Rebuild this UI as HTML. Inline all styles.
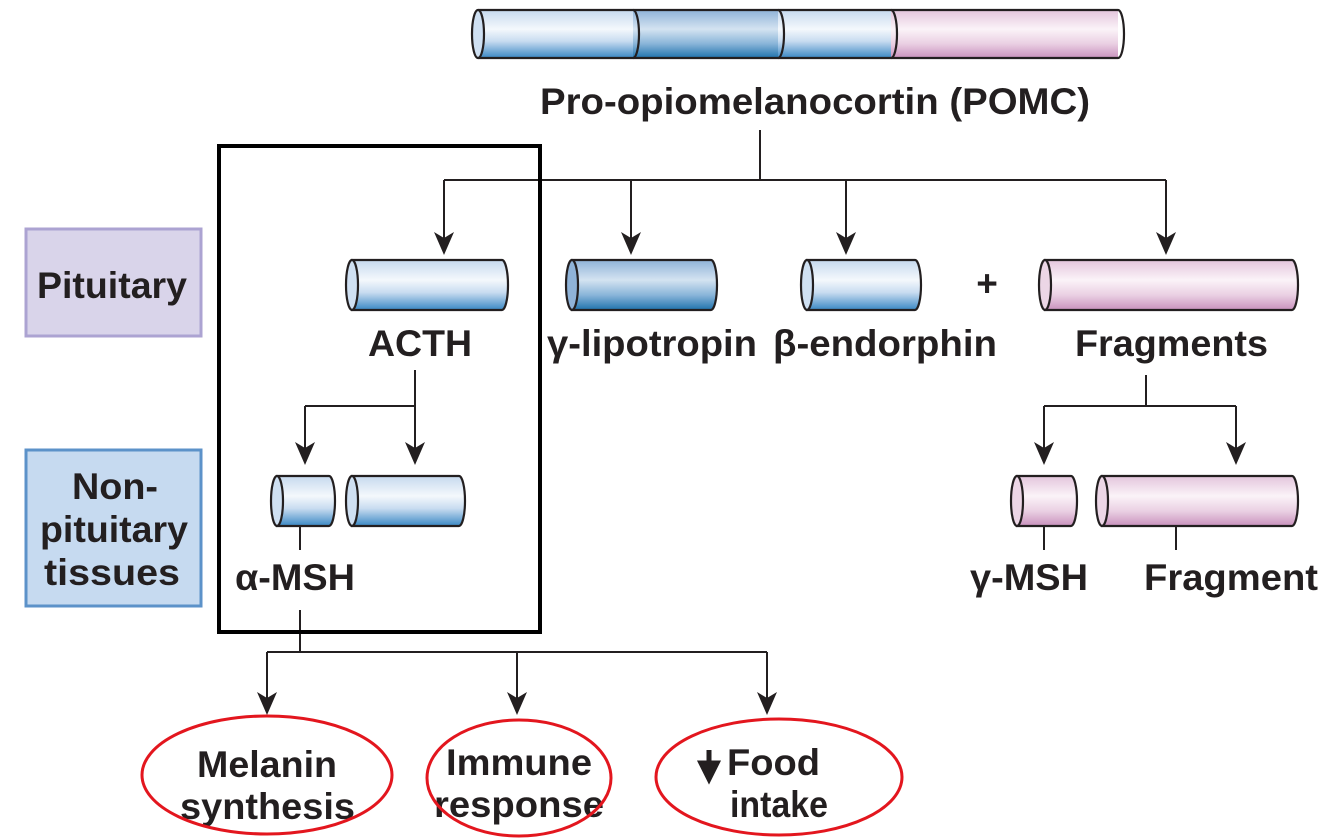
<!DOCTYPE html>
<html><head><meta charset="utf-8"><style>
html,body{margin:0;padding:0;background:#fff}
svg{display:block}
text{font-family:"Liberation Sans",sans-serif;font-weight:bold;fill:#231f20}
</style></head><body>
<svg width="1343" height="840" viewBox="0 0 1343 840" xmlns="http://www.w3.org/2000/svg">
<defs>
<linearGradient id="b" x1="0" y1="0" x2="0" y2="1">
<stop offset="0" stop-color="#c6d9ee"/><stop offset="0.4" stop-color="#f4f8fc"/><stop offset="0.65" stop-color="#c8dcf0"/><stop offset="1" stop-color="#3a88c4"/></linearGradient>
<linearGradient id="d" x1="0" y1="0" x2="0" y2="1">
<stop offset="0" stop-color="#8fb3d8"/><stop offset="0.4" stop-color="#d4e3f1"/><stop offset="0.7" stop-color="#8ab5d9"/><stop offset="1" stop-color="#1f73ad"/></linearGradient>
<linearGradient id="p" x1="0" y1="0" x2="0" y2="1">
<stop offset="0" stop-color="#e3c5dc"/><stop offset="0.4" stop-color="#fbf3f8"/><stop offset="0.7" stop-color="#ead0e3"/><stop offset="1" stop-color="#c992bd"/></linearGradient>
</defs>
<g stroke="#231f20" stroke-width="2.2" fill="none">
<rect x="478" y="10" width="155" height="48" fill="url(#b)" stroke="none"/>
<rect x="633" y="10" width="145" height="48" fill="url(#d)" stroke="none"/>
<rect x="778" y="10" width="113" height="48" fill="url(#b)" stroke="none"/>
<rect x="891" y="10" width="227" height="48" fill="url(#p)" stroke="none"/>
<path d="M478,10 H1118 A6,24 0 0 1 1118,58 H478" />
<path d="M633,10 A6,24 0 0 1 633,58 M778,10 A6,24 0 0 1 778,58 M891,10 A6,24 0 0 1 891,58"/>
<ellipse cx="478" cy="34" rx="6" ry="24" fill="#cfe0f2"/>
</g>
<g stroke="#231f20" stroke-width="2.2">
<path d="M352,260 H502 A6,25 0 0 1 502,310 H352 Z" fill="url(#b)"/><ellipse cx="352" cy="285" rx="6" ry="25" fill="#cfe0f2"/>
<path d="M572,260 H711 A6,25 0 0 1 711,310 H572 Z" fill="url(#d)"/><ellipse cx="572" cy="285" rx="6" ry="25" fill="#8fb3d8"/>
<path d="M807,260 H915 A6,25 0 0 1 915,310 H807 Z" fill="url(#b)"/><ellipse cx="807" cy="285" rx="6" ry="25" fill="#cfe0f2"/>
<path d="M1045,260 H1292 A6,25 0 0 1 1292,310 H1045 Z" fill="url(#p)"/><ellipse cx="1045" cy="285" rx="6" ry="25" fill="#ecd6e6"/>
<path d="M277,476 H329 A6,25 0 0 1 329,526 H277 Z" fill="url(#b)"/><ellipse cx="277" cy="501" rx="6" ry="25" fill="#cfe0f2"/>
<path d="M352,476 H459 A6,25 0 0 1 459,526 H352 Z" fill="url(#b)"/><ellipse cx="352" cy="501" rx="6" ry="25" fill="#cfe0f2"/>
<path d="M1017,476 H1071 A6,25 0 0 1 1071,526 H1017 Z" fill="url(#p)"/><ellipse cx="1017" cy="501" rx="6" ry="25" fill="#ecd6e6"/>
<path d="M1102,476 H1292 A6,25 0 0 1 1292,526 H1102 Z" fill="url(#p)"/><ellipse cx="1102" cy="501" rx="6" ry="25" fill="#ecd6e6"/>
</g>
<g stroke="#231f20" stroke-width="2" fill="none">
<path d="M760,130 V180 M444,180 H1166"/>
<path d="M444,180 V238 M631,180 V238 M846,180 V238 M1166,180 V238"/>
<path d="M415,370 V406 M305,406 H415 M305,406 V448 M415,406 V448"/>
<path d="M1146,375 V406 M1044,406 H1236 M1044,406 V448 M1236,406 V448"/>
<path d="M1044,526 V550 M1176,526 V550 M300,526 V550"/>
<path d="M300,610 V652 M267,652 H767 M267,652 V698 M517,652 V698 M767,652 V698"/>
</g>
<g fill="#231f20">
<path d="M434,232 L444,255 L454,232 L444,238 Z"/>
<path d="M621,232 L631,255 L641,232 L631,238 Z"/>
<path d="M836,232 L846,255 L856,232 L846,238 Z"/>
<path d="M1156,232 L1166,255 L1176,232 L1166,238 Z"/>
<path d="M295,442 L305,465 L315,442 L305,448 Z"/>
<path d="M405,442 L415,465 L425,442 L415,448 Z"/>
<path d="M1034,442 L1044,465 L1054,442 L1044,448 Z"/>
<path d="M1226,442 L1236,465 L1246,442 L1236,448 Z"/>
<path d="M257,692 L267,715 L277,692 L267,698 Z"/>
<path d="M507,692 L517,715 L527,692 L517,698 Z"/>
<path d="M757,692 L767,715 L777,692 L767,698 Z"/>
</g>
<rect x="219" y="146" width="321" height="486" fill="none" stroke="#000" stroke-width="4"/>
<rect x="26" y="229" width="175" height="107" fill="#d9d4ea" stroke="#aca3d2" stroke-width="3"/>
<rect x="26" y="450" width="175" height="156" fill="#c6daf0" stroke="#5c92c9" stroke-width="3"/>
<g font-size="37" lengthAdjust="spacingAndGlyphs">
<text x="540" y="114" textLength="550" lengthAdjust="spacingAndGlyphs">Pro-opiomelanocortin (POMC)</text>
<text x="37" y="298" textLength="150" lengthAdjust="spacingAndGlyphs">Pituitary</text>
<text x="72" y="499" textLength="86" lengthAdjust="spacingAndGlyphs">Non-</text>
<text x="40" y="542" textLength="148" lengthAdjust="spacingAndGlyphs">pituitary</text>
<text x="44" y="585" textLength="136" lengthAdjust="spacingAndGlyphs">tissues</text>
<text x="368" y="356" textLength="104" lengthAdjust="spacingAndGlyphs">ACTH</text>
<text x="547" y="356" textLength="210" lengthAdjust="spacingAndGlyphs">γ-lipotropin</text>
<text x="773" y="356" textLength="224" lengthAdjust="spacingAndGlyphs">β-endorphin</text>
<text x="1075" y="356" textLength="193" lengthAdjust="spacingAndGlyphs">Fragments</text>
<text x="987" y="296" text-anchor="middle">+</text>
<text x="235" y="590" textLength="120" lengthAdjust="spacingAndGlyphs">α-MSH</text>
<text x="970" y="590" textLength="118" lengthAdjust="spacingAndGlyphs">γ-MSH</text>
<text x="1144" y="590" textLength="174" lengthAdjust="spacingAndGlyphs">Fragment</text>
<text x="197" y="777" textLength="140" lengthAdjust="spacingAndGlyphs">Melanin</text>
<text x="180" y="819" textLength="175" lengthAdjust="spacingAndGlyphs">synthesis</text>
<text x="446" y="775" textLength="146" lengthAdjust="spacingAndGlyphs">Immune</text>
<text x="434" y="817" textLength="170" lengthAdjust="spacingAndGlyphs">response</text>
<text x="727" y="775" textLength="93" lengthAdjust="spacingAndGlyphs">Food</text>
<text x="730" y="817" textLength="98" lengthAdjust="spacingAndGlyphs">intake</text>
</g>
<path d="M709,750 V766 M701,763 L709,779 L717,763 Z" stroke="#231f20" stroke-width="5" fill="#231f20"/>
<g fill="none" stroke="#e3161e" stroke-width="3">
<ellipse cx="267" cy="775" rx="125" ry="59"/>
<ellipse cx="519" cy="778" rx="92" ry="58"/>
<ellipse cx="779" cy="777" rx="123" ry="58"/>
</g>
</svg>
</body></html>
